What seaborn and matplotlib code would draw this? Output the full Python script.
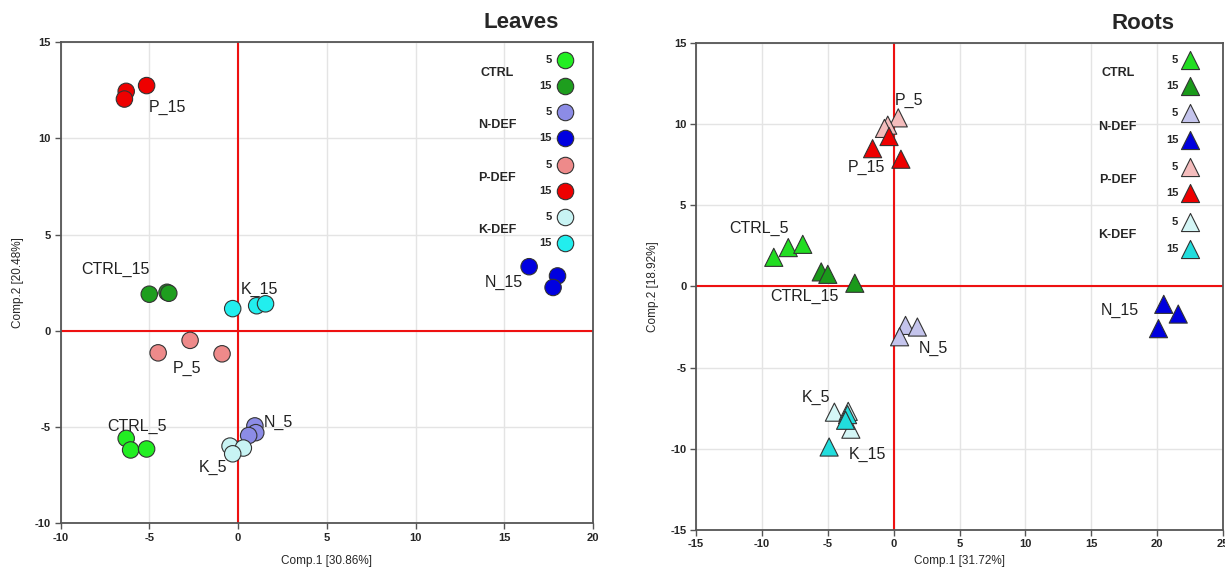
import matplotlib
matplotlib.use('Agg')
import matplotlib.pyplot as plt
import seaborn as sns
import pandas as pd

groups = ['CTRL_5', 'CTRL_15', 'N_5', 'N_15', 'P_5', 'P_15', 'K_5', 'K_15']
treatments = ['CTRL', 'N-DEF', 'P-DEF', 'K-DEF']
days = ['5', '15']

# leaves scores (3 replicates per group)
leaves_grp = [g for g in groups for _ in range(3)]
leaves_x = [-6.3, -6.05, -5.15,   -5.0, -4.0, -3.9,   0.95, 1.0, 0.6,   16.4, 18.0, 17.75,
            -2.7, -4.5, -0.9,     -6.3, -6.4, -5.15,  -0.45, 0.3, -0.3, -0.3, 1.05, 1.55]
leaves_y = [-5.6, -6.2, -6.15,    1.9, 2.0, 1.95,     -4.95, -5.3, -5.45, 3.33, 2.85, 2.25,
            -0.5, -1.15, -1.2,    12.45, 12.05, 12.75, -6.0, -6.1, -6.4,  1.15, 1.3, 1.4]
leaves_lab = ['CTRL_5', 'CTRL_15', 'N_5', 'N_15', 'P_5', 'P_15', 'K_5', 'K_15']
leaves_lab_x = [-5.7, -6.9, 2.3, 15.0, -2.9, -4.0, -1.4, 1.2]
leaves_lab_y = [-5.0, 3.2, -4.75, 2.5, -1.95, 11.6, -7.1, 2.15]
leaves_colors = ['#22ee22', '#1e9e1e', '#8c8ce6', '#0000e0',
                 '#ee8a8a', '#ee0000', '#c8f4f4', '#22eeee']

# roots scores
roots_grp = leaves_grp
roots_x = [-9.1, -8.0, -6.9,      -5.5, -5.0, -2.95,  0.9, 1.8, 0.45,   20.5, 21.6, 20.1,
           0.35, -0.45, -0.7,     -0.35, -1.6, 0.55,  -4.5, -3.25, -3.45, -3.5, -3.65, -4.9]
roots_y = [1.8, 2.4, 2.6,         0.9, 0.75, 0.2,     -2.4, -2.5, -3.1,   -1.1, -1.7, -2.6,
           10.4, 9.95, 9.75,      9.25, 8.5, 7.85,    -7.75, -8.8, -7.7,  -7.9, -8.25, -9.9]
roots_lab = ['CTRL_5', 'CTRL_15', 'N_5', 'N_15', 'P_5', 'P_15', 'K_5', 'K_15']
roots_lab_x = [-10.2, -6.8, 3.0, 17.2, 1.2, -2.1, -5.9, -2.0]
roots_lab_y = [3.6, -0.6, -3.8, -1.45, 11.5, 7.35, -6.85, -10.35]
roots_colors = ['#22dd22', '#1a9a1a', '#c4c4ec', '#0000dd',
                '#f4bcbc', '#ee0000', '#d4f6f6', '#22dddd']

sns.set_style('whitegrid')
plt.rcParams['font.family'] = ['Liberation Sans', 'DejaVu Sans']
plt.rcParams['axes.unicode_minus'] = False

fig = plt.figure(figsize=(12.25, 5.68), dpi=100)
ax1 = fig.add_axes([0.0494, 0.0792, 0.4347, 0.8463])
ax2 = fig.add_axes([0.5682, 0.0674, 0.4302, 0.8564])


def draw(ax, xs, ys, grp, colors, marker, size, labs, lx, ly, xlim, ylim,
         title, tpos, xlabel, ylabel, xpad, leg_x, leg_rows):
    df = pd.DataFrame({'x': xs, 'y': ys, 'grp': grp})
    pal = dict(zip(groups, colors))
    ax.axhline(0, color='#ee1111', lw=1.5, zorder=1)
    ax.axvline(0, color='#ee1111', lw=1.5, zorder=1)
    sns.scatterplot(data=df, x='x', y='y', hue='grp', palette=pal, marker=marker,
                    s=size, edgecolor='#333333', linewidth=0.8, legend=False,
                    ax=ax, zorder=3)
    for t, a, b in zip(labs, lx, ly):
        ax.text(a, b, t, fontsize=11.5, color='#222222', ha='center', va='center', zorder=4)
    ax.set_xlim(*xlim)
    ax.set_ylim(*ylim)
    ax.set_xticks(range(xlim[0], xlim[1] + 1, 5))
    ax.set_yticks(range(ylim[0], ylim[1] + 1, 5))
    ax.grid(color='#e4e4e4', lw=1.0)
    for sp in ax.spines.values():
        sp.set_color('#555555')
        sp.set_linewidth(1.3)
    ax.tick_params(direction='out', length=4, width=1, color='#555555',
                   labelsize=8, pad=3, bottom=True, left=True)
    for lab in ax.get_xticklabels() + ax.get_yticklabels():
        lab.set_fontweight('bold')
    ax.set_xlabel(xlabel, fontsize=8.5, labelpad=xpad)
    ax.set_ylabel(ylabel, fontsize=8.5, labelpad=8)
    ax.text(tpos[0], tpos[1], title, transform=ax.transAxes, fontsize=16,
            fontweight='bold', ha='center', va='center')
    # custom legend: treatment label + day sub-labels + marker
    k = 0
    for i, tr in enumerate(treatments):
        ax.text(leg_x[0], (leg_rows[2 * i] + leg_rows[2 * i + 1]) / 2, tr,
                transform=ax.transAxes, fontsize=9, fontweight='bold',
                ha='center', va='center')
        for d in days:
            ax.text(leg_x[1], leg_rows[k], d, transform=ax.transAxes, fontsize=8,
                    fontweight='bold', ha='right', va='center')
            ax.scatter([leg_x[2]], [leg_rows[k]], transform=ax.transAxes,
                       marker=marker, s=size, color=colors[k],
                       edgecolor='#333333', linewidth=0.8, zorder=5, clip_on=False)
            k += 1


draw(ax1, leaves_x, leaves_y, leaves_grp, leaves_colors, 'o', 140,
     leaves_lab, leaves_lab_x, leaves_lab_y, (-10, 20), (-10, 15),
     'Leaves', (0.866, 1.042), 'Comp.1 [30.86%]', 'Comp.2 [20.48%]', 9,
     (0.82, 0.922, 0.947),
     [0.963, 0.909, 0.855, 0.801, 0.745, 0.691, 0.637, 0.583])

draw(ax2, roots_x, roots_y, roots_grp, roots_colors, '^', 170,
     roots_lab, roots_lab_x, roots_lab_y, (-15, 25), (-15, 15),
     'Roots', (0.848, 1.04), 'Comp.1 [31.72%]', 'Comp.2 [18.92%]', 4,
     (0.80, 0.915, 0.937),
     [0.966, 0.912, 0.856, 0.801, 0.746, 0.692, 0.633, 0.578])

fig.savefig('out.png', dpi=100)
